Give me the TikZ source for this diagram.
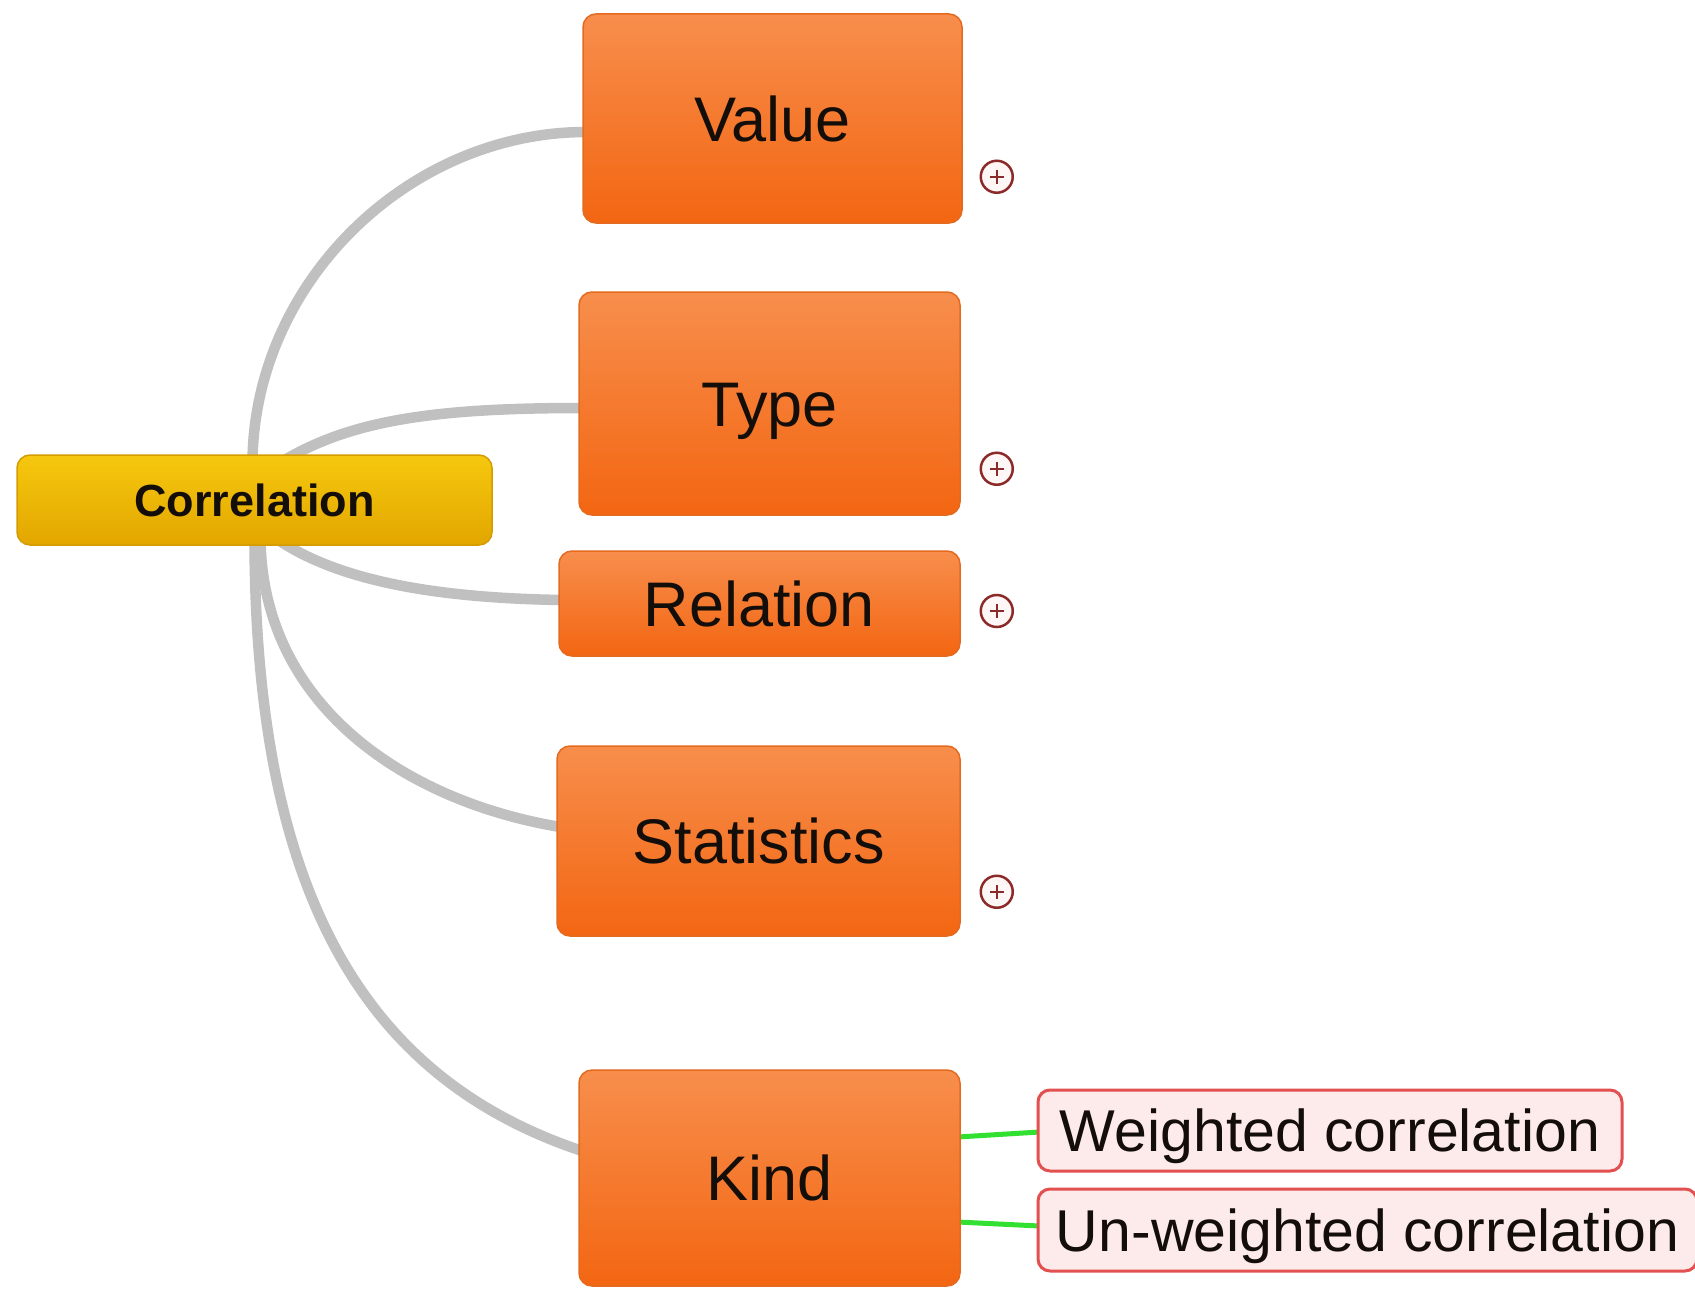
\documentclass[tikz,border=0pt]{standalone}
\usepackage{fontspec}
\setmainfont{Liberation Sans}
\usetikzlibrary{calc,backgrounds}

\definecolor{branchgrey}{RGB}{192,192,192}
\definecolor{orangetop}{RGB}{247,142,76}
\definecolor{orangebot}{RGB}{243,102,18}
\definecolor{orangeedge}{RGB}{228,106,32}
\definecolor{goldtop}{RGB}{246,200,14}
\definecolor{goldbot}{RGB}{226,166,0}
\definecolor{goldedge}{RGB}{212,156,0}
\definecolor{leaffill}{RGB}{253,234,234}
\definecolor{leafedge}{RGB}{226,80,80}
\definecolor{leafgreen}{RGB}{50,224,50}
\definecolor{plusred}{RGB}{140,42,42}
\definecolor{plusfill}{RGB}{255,246,246}
\definecolor{inktext}{RGB}{20,14,10}

\tikzset{
  topic/.style={draw=orangeedge, line width=1.5pt, top color=orangetop,
    bottom color=orangebot, rounded corners=13pt, inner sep=0pt,
    text=inktext, font=\fontsize{63}{70}\selectfont,
    text height=45pt, text depth=0pt},
  rootbox/.style={draw=goldedge, line width=1.5pt, top color=goldtop,
    bottom color=goldbot, rounded corners=13pt, inner sep=0pt,
    text=inktext, font=\bfseries\fontsize{45}{50}\selectfont,
    text height=32pt, text depth=0pt},
  leafbox/.style={draw=leafedge, line width=3pt, fill=leaffill,
    rounded corners=12pt, inner sep=0pt, text=inktext,
    font=\fontsize{59}{66}\selectfont, text height=42pt, text depth=0pt},
  plusmark/.style={circle, draw=plusred, line width=2.5pt, fill=plusfill,
    minimum size=32pt, inner sep=0pt,
    path picture={\draw[plusred, line width=2.5pt]
      ($(path picture bounding box.center)+(-7,0)$) -- ++(14,0)
      ($(path picture bounding box.center)+(0,-7)$) -- ++(0,14);}},
  branch/.style={draw=branchgrey, line width=10.5pt},
  twig/.style={draw=leafgreen, line width=5pt},
}

\begin{document}
\begin{tikzpicture}[x=1pt, y=-1pt]
\useasboundingbox (0,0) rectangle (1695,1290);

% central topic and main branches
\node[rootbox, minimum width=475pt, minimum height=90pt] (corr) at (254.5,500) {Correlation};
\node[topic, minimum width=379pt, minimum height=209pt] (value) at (772.5,118.5) {Value};
\node[topic, minimum width=381pt, minimum height=223pt] (type) at (769.5,403.5) {Type};
\node[topic, minimum width=401pt, minimum height=105pt] (relation) at (759.5,603.5) {Relation};
\node[topic, minimum width=403pt, minimum height=190pt] (stats) at (758.5,841) {Statistics};
\node[topic, minimum width=381pt, minimum height=216pt] (kind) at (769.5,1178) {Kind};

% sub-topics of Kind
\node[leafbox, minimum width=584pt, minimum height=81pt] (weighted) at (1330,1130.5) {Weighted correlation};
\node[leafbox, minimum width=659pt, minimum height=82pt] (unweighted) at (1367.5,1230) {Un-weighted correlation};

% collapsed-branch markers
\node[plusmark] (pvalue) at ($(value.south east)+(34,-47)$) {};
\node[plusmark] (ptype) at ($(type.south east)+(36,-47)$) {};
\node[plusmark] (prelation) at ($(relation.east)+(36,7.5)$) {};
\node[plusmark] (pstats) at ($(stats.south east)+(36,-45)$) {};

\begin{scope}[on background layer]
  \fill[white] (0,0) rectangle (1695,1290);
  \draw[branch] ($(corr.north)+(-2,10)$) .. controls +(0,-180)
    and ($(value.west)+(-175,13.5)$) .. ($(value.west)+(4,13.5)$);
  \draw[branch] ($(corr.north)+(20,12)$) .. controls +(70,-45)
    and ($(type.west)+(-150,4.5)$) .. ($(type.west)+(4,4.5)$);
  \draw[branch] ($(corr.south)+(15,-12)$) .. controls +(60,45)
    and ($(relation.west)+(-130,-5.5)$) .. ($(relation.west)+(4,-3.5)$);
  \draw[branch] ($(corr.south)+(6,-10)$) .. controls +(0,165)
    and ($(stats.west)+(-157,-41)$) .. ($(stats.west)+(4,-14)$);
  \draw[branch] ($(corr.south)+(0,-10)$) .. controls +(0,365)
    and ($(kind.west)+(-209,-98)$) .. ($(kind.west)+(4,-27)$);
  \draw[twig] ($(kind.east)+(-3,-41)$) -- ($(weighted.west)+(3,1.5)$);
  \draw[twig] ($(kind.east)+(-3,44)$) -- ($(unweighted.west)+(3,-4)$);
\end{scope}
\end{tikzpicture}
\end{document}
